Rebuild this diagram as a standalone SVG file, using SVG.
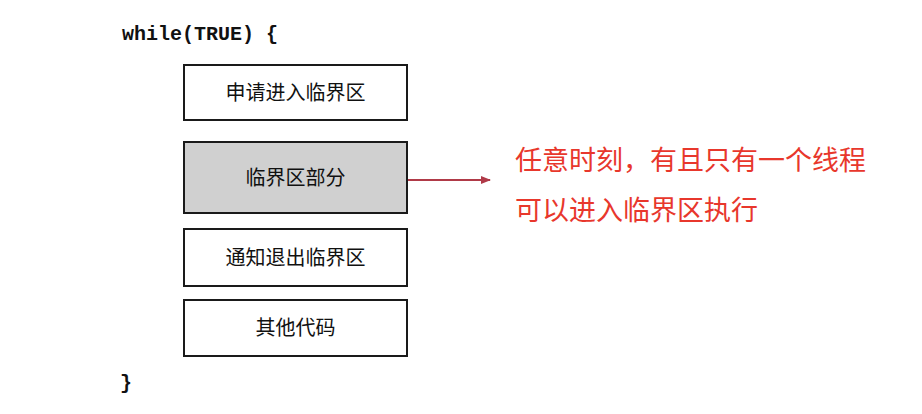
<svg xmlns="http://www.w3.org/2000/svg" width="922" height="414" viewBox="0 0 922 414">
<style>
.box{fill:#fff;stroke:#1a1a1a;stroke-width:2}
.gray{fill:#d0d0d0}
.t{font-family:"Noto Sans CJK SC","Noto Sans",sans-serif;font-size:20px;fill:#111;text-anchor:middle}
.code{font-family:"Liberation Mono",monospace;font-size:20px;font-weight:bold;fill:#111}
.red{font-family:"Noto Sans CJK SC","Noto Sans",sans-serif;font-size:27px;fill:#e8372c}
</style>
<defs>
<marker id="ah" viewBox="0 0 10 10" refX="9" refY="5" markerWidth="10" markerHeight="10" markerUnits="userSpaceOnUse" orient="auto">
<path d="M0,1 L10,5 L0,9 z" fill="#b03a48"/>
</marker>
</defs>
<rect width="922" height="414" fill="#fff"/>
<text class="code" x="122" y="40">while(TRUE) {</text>
<text class="code" x="120" y="389">}</text>
<g id="n1"><rect class="box" x="184" y="65" width="223" height="55"/><text class="t" x="295.5" y="99.5">申请进入临界区</text></g>
<g id="n2"><rect class="box gray" x="184" y="142" width="223" height="71"/><text class="t" x="295.5" y="184.5">临界区部分</text></g>
<g id="n3"><rect class="box" x="184" y="229" width="223" height="57"/><text class="t" x="295.5" y="264.5">通知退出临界区</text></g>
<g id="n4"><rect class="box" x="184" y="300" width="223" height="56"/><text class="t" x="295.5" y="335">其他代码</text></g>
<g id="connectors"><line x1="408" y1="180" x2="490" y2="180" stroke="#b03a48" stroke-width="2" marker-end="url(#ah)"/></g>
<g id="note"><text class="red" x="515" y="170">任意时刻，有且只有一个线程</text><text class="red" x="515" y="220">可以进入临界区执行</text></g>
</svg>
